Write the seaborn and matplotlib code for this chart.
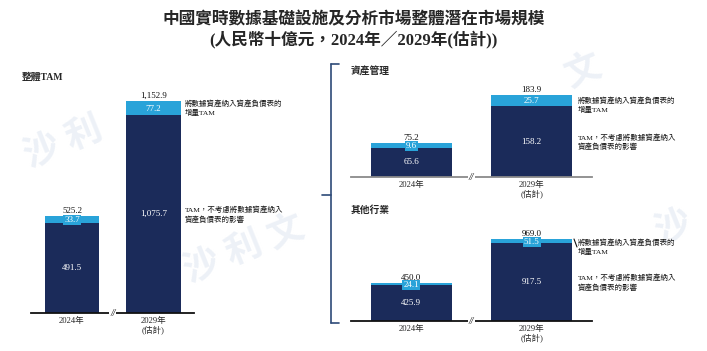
import pandas as pd
import matplotlib.pyplot as plt
import seaborn as sns
from matplotlib.lines import Line2D

# Data (RMB billions)
years = ['2024年', '2029年\n(估計)']
total_base = [491.5, 1075.7]
total_incr = [33.7, 77.2]
total_sum = [525.2, 1152.9]
asset_base = [65.6, 158.2]
asset_incr = [9.6, 25.7]
asset_sum = [75.2, 183.9]
other_base = [425.9, 917.5]
other_incr = [24.1, 51.5]
other_sum = [450.0, 969.0]

sum_labels = {
    'total': ['525.2', '1,152.9'],
    'asset': ['75.2', '183.9'],
    'other': ['450.0', '969.0'],
}

DARK = '#1b2b5a'
LIGHT = '#29a3d9'
FONT = ['Liberation Serif', 'Noto Sans CJK TC']
note_incr = '將數據資產納入資產負債表的\n增量TAM'
note_base = 'TAM，不考慮將數據資產納入\n資產負債表的影響'

sns.set_theme(style='white')
plt.rcParams['font.family'] = FONT

W, H = 707, 351
fig = plt.figure(figsize=(W / 100, H / 100), dpi=100)


def px_axes(left, baseline, width, height):
    return fig.add_axes([left / W, (H - baseline) / H, width / W, height / H])


def draw_panel(ax, base, incr, tot, labels, ymax, axis_color, incr_off):
    df = pd.DataFrame({'year': years, 'base': base, 'incr': incr, 'total': tot})
    sns.barplot(data=df, x='year', y='total', color=LIGHT, width=0.67,
                saturation=1, linewidth=0, ax=ax)
    sns.barplot(data=df, x='year', y='base', color=DARK, width=0.67,
                saturation=1, linewidth=0, ax=ax)
    ax.set_xlim(-0.5, 1.5)
    ax.set_ylim(0, ymax)
    ax.set_facecolor('none')
    for s in ['top', 'right', 'left']:
        ax.spines[s].set_visible(False)
    ax.spines['bottom'].set_color(axis_color)
    ax.spines['bottom'].set_linewidth(1.3)
    ax.set_yticks([])
    ax.set_xlabel('')
    ax.set_ylabel('')
    ax.tick_params(axis='x', length=0, pad=3, labelsize=6.2)
    for lab in ax.get_xticklabels():
        lab.set_family(FONT)
        lab.set_linespacing(1.1)
    for i in range(2):
        ax.annotate(labels[i], (i, tot[i]), xytext=(0, 1), textcoords='offset points',
                    ha='center', va='bottom', fontsize=6.5, color='#111111')
        ax.annotate(f'{incr[i]:.1f}', (i, base[i] + incr[i] / 2), xytext=(0, -0.5),
                    textcoords='offset points', ha='center', va='center',
                    fontsize=6.5, color='white',
                    bbox=dict(boxstyle='square,pad=0.12', fc=LIGHT, ec='none'))
        ax.text(i, base[i] / 2, f'{base[i]:,.1f}', ha='center', va='center',
                fontsize=6.5, color='white')
    ax.text(0.5, 0, '//', ha='center', va='center', fontsize=7, color='#111111',
            fontstyle='italic',
            bbox=dict(boxstyle='square,pad=0.1', fc='white', ec='none'))
    ax.annotate(note_incr, (1.38, base[1] + incr[1] / 2), xytext=(0, incr_off),
                textcoords='offset points', ha='left', va='center', fontsize=5.4,
                linespacing=1.35, color='#111111', annotation_clip=False)
    ax.text(1.38, base[1] / 2, note_base, ha='left', va='center', fontsize=5.4,
            linespacing=1.35, color='#111111', clip_on=False)


# faint watermarks
for (x, y, s) in [(20, 175, '沙 利'), (180, 290, '沙 利 文'), (560, 95, '文'), (650, 250, '沙')]:
    fig.text(x / W, 1 - y / H, s, fontsize=26, color='#edf1f7', rotation=22,
             ha='left', va='bottom', zorder=-5, fontweight='bold')

ax0 = px_axes(31.25, 313, 163, 230)
draw_panel(ax0, total_base, total_incr, total_sum, sum_labels['total'],
           230 / 0.184, '#111111', 0)
ax1 = px_axes(351, 177, 241, 100)
draw_panel(ax1, asset_base, asset_incr, asset_sum, sum_labels['asset'],
           100 / 0.446, '#8a8a8a', -3)
ax2 = px_axes(351, 321, 241, 100)
draw_panel(ax2, other_base, other_incr, other_sum, sum_labels['other'],
           100 / 0.0845, '#111111', -4)

# titles
fig.text(0.5, 1 - 20 / H, '中國實時數據基礎設施及分析市場整體潛在市場規模',
         ha='center', va='center', fontsize=12, fontweight='bold')
fig.text(0.5, 1 - 39 / H, '(人民幣十億元，2024年／2029年(估計))',
         ha='center', va='center', fontsize=12, fontweight='bold')
fig.text(22 / W, 1 - 77 / H, '整體TAM', ha='left', va='center', fontsize=7,
         fontweight='bold')
fig.text(351 / W, 1 - 72 / H, '資產管理', ha='left', va='center', fontsize=7,
         fontweight='bold')
fig.text(351 / W, 1 - 210 / H, '其他行業', ha='left', va='center', fontsize=7,
         fontweight='bold')

# bracket joining the two right panels
bc = '#2e4a78'
for xs, ys in [([331, 331], [64, 323]), ([331, 339], [64, 64]),
               ([331, 339], [323, 323]), ([322, 331], [195, 195])]:
    fig.add_artist(Line2D([x / W for x in xs], [1 - y / H for y in ys],
                          color=bc, lw=1.2))
# small leader on the lower panel note
fig.add_artist(Line2D([574 / W, 577 / W], [1 - 239 / H, 1 - 247 / H],
                      color='#111111', lw=0.8))

fig.savefig('out.png', dpi=100)
